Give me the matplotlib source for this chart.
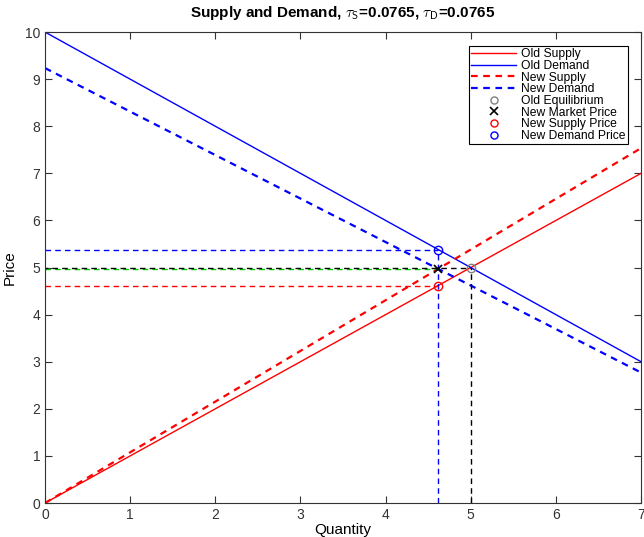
import numpy as np
import matplotlib
matplotlib.use("Agg")
import matplotlib.pyplot as plt

plt.rcParams['font.family'] = ['Liberation Sans', 'DejaVu Sans']
plt.rcParams['mathtext.fontset'] = 'cm'

# line endpoints (quantity, price)
q_ends = [0, 7]
old_supply = [0, 7]
old_demand = [10, 3]
new_supply = [0, 7.5355]
new_demand = [9.235, 2.7705]

# key points
q_old, p_old = 5.0, 5.0
q_new = 4.6175
p_market = 4.9707
p_supply = 4.6175
p_demand = 5.3825

fig = plt.figure(figsize=(6.44, 5.37), dpi=100)
ax = fig.add_axes([0.0699, 0.0633, 0.9255, 0.877])

ax.plot(q_ends, old_supply, color='red', lw=1, label='Old Supply')
ax.plot(q_ends, old_demand, color='blue', lw=1, label='Old Demand')
ax.plot(q_ends, new_supply, color='red', lw=1.6, ls=(0, (3, 2.5)), label='New Supply')
ax.plot(q_ends, new_demand, color='blue', lw=1.6, ls=(0, (3, 2.5)), label='New Demand')

dash = (0, (4, 3))
# guide lines
ax.plot([0, q_new], [p_demand, p_demand], color='blue', lw=1, ls=dash)
ax.plot([q_new, q_new], [0, p_demand], color='blue', lw=1, ls=dash)
ax.plot([0, q_new], [p_supply, p_supply], color='red', lw=1, ls=dash)
ax.plot([0, q_new], [p_market, p_market], color='#00cc00', lw=1, ls=dash)
ax.plot([0, q_old], [p_old, p_old], color='black', lw=1, ls=(2, (4, 3)))
ax.plot([q_old, q_old], [0, p_old], color='black', lw=1, ls=dash)

ax.plot([q_old], [p_old], 'o', mfc='none', mec='gray', ms=6, label='Old Equilibrium')
ax.plot([q_new], [p_market], 'x', color='black', ms=6, mew=1.2, label='New Market Price')
ax.plot([q_new], [p_supply], 'o', mfc='none', mec='red', ms=6, label='New Supply Price')
ax.plot([q_new], [p_demand], 'o', mfc='none', mec='blue', ms=6, label='New Demand Price')

ax.set_xlim(0, 7)
ax.set_ylim(0, 10)
ax.set_xticks(np.arange(0, 8))
ax.set_yticks(np.arange(0, 11))
ax.tick_params(direction='in', top=True, right=True, labelsize=10, colors='#333333', length=5)
for s in ax.spines.values():
    s.set_color('#333333')
ax.set_xlabel('Quantity', fontsize=11, labelpad=1)
ax.set_ylabel('Price', fontsize=11, labelpad=6)
ax.set_title(r'Supply and Demand, $\tau_\mathsf{S}$=0.0765, $\tau_\mathsf{D}$=0.0765',
             fontsize=11, fontweight='bold', pad=11)

leg = ax.legend(loc='upper right', bbox_to_anchor=(0.978, 0.971), borderaxespad=0,
                fontsize=8.7, frameon=True, fancybox=False, markerscale=0.85,
                edgecolor='black', framealpha=1, handlelength=3.7, borderpad=0.22,
                labelspacing=-0.03, handletextpad=0.4)
leg.get_frame().set_linewidth(0.8)

fig.savefig('out.png', dpi=100)
